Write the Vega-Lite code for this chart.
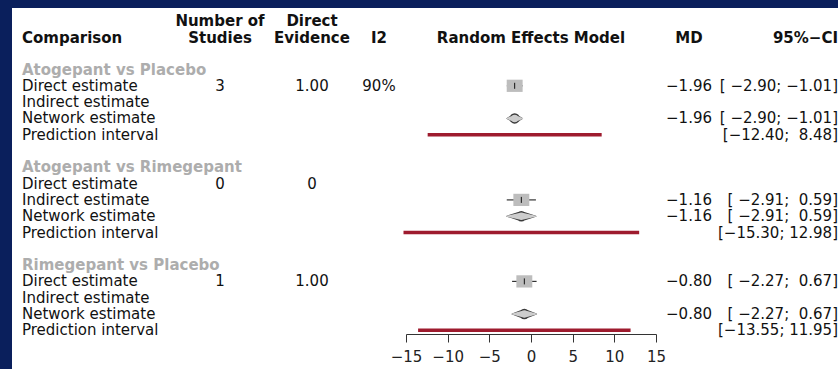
{
  "$schema": "https://vega.github.io/schema/vega-lite/v6.json",
  "background": "white",
  "padding": 0,
  "bounds": "flush",
  "spacing": 0,
  "datasets": {
    "rows": [
      {"cmp": "Atogepant vs Placebo", "row": 1, "label": "Direct estimate", "type": "direct", "studies": "3", "evidence": "1.00", "i2": "90%", "est": -1.96, "lower": -2.90, "upper": -1.01, "md": "\u22121.96", "ci": "[\u00a0\u22122.90;\u00a0\u22121.01]"},
      {"cmp": "Atogepant vs Placebo", "row": 2, "label": "Indirect estimate", "type": "indirect"},
      {"cmp": "Atogepant vs Placebo", "row": 3, "label": "Network estimate", "type": "network", "est": -1.96, "lower": -2.90, "upper": -1.01, "md": "\u22121.96", "ci": "[\u00a0\u22122.90;\u00a0\u22121.01]"},
      {"cmp": "Atogepant vs Placebo", "row": 4, "label": "Prediction interval", "type": "prediction", "lower": -12.40, "upper": 8.48, "ci": "[\u221212.40;\u00a0\u00a08.48]"},
      {"cmp": "Atogepant vs Rimegepant", "row": 7, "label": "Direct estimate", "type": "direct", "studies": "0", "evidence": "0"},
      {"cmp": "Atogepant vs Rimegepant", "row": 8, "label": "Indirect estimate", "type": "indirect", "est": -1.16, "lower": -2.91, "upper": 0.59, "md": "\u22121.16", "ci": "[\u00a0\u22122.91;\u00a0\u00a00.59]"},
      {"cmp": "Atogepant vs Rimegepant", "row": 9, "label": "Network estimate", "type": "network", "est": -1.16, "lower": -2.91, "upper": 0.59, "md": "\u22121.16", "ci": "[\u00a0\u22122.91;\u00a0\u00a00.59]"},
      {"cmp": "Atogepant vs Rimegepant", "row": 10, "label": "Prediction interval", "type": "prediction", "lower": -15.30, "upper": 12.98, "ci": "[\u221215.30;\u00a012.98]"},
      {"cmp": "Rimegepant vs Placebo", "row": 13, "label": "Direct estimate", "type": "direct", "studies": "1", "evidence": "1.00", "est": -0.80, "lower": -2.27, "upper": 0.67, "md": "\u22120.80", "ci": "[\u00a0\u22122.27;\u00a0\u00a00.67]"},
      {"cmp": "Rimegepant vs Placebo", "row": 14, "label": "Indirect estimate", "type": "indirect"},
      {"cmp": "Rimegepant vs Placebo", "row": 15, "label": "Network estimate", "type": "network", "est": -0.80, "lower": -2.27, "upper": 0.67, "md": "\u22120.80", "ci": "[\u00a0\u22122.27;\u00a0\u00a00.67]"},
      {"cmp": "Rimegepant vs Placebo", "row": 16, "label": "Prediction interval", "type": "prediction", "lower": -13.55, "upper": 11.95, "ci": "[\u221213.55;\u00a011.95]"}
    ],
    "groups": [
      {"cmp": "Atogepant vs Placebo", "row": 0},
      {"cmp": "Atogepant vs Rimegepant", "row": 6},
      {"cmp": "Rimegepant vs Placebo", "row": 12}
    ],
    "headers": [
      {"col": "comparison", "row": -1.95, "text": "Comparison"},
      {"col": "studies", "row": -3.0, "text": "Number of"},
      {"col": "studies", "row": -1.95, "text": "Studies"},
      {"col": "evidence", "row": -3.0, "text": "Direct"},
      {"col": "evidence", "row": -1.95, "text": "Evidence"},
      {"col": "i2", "row": -1.95, "text": "I2"},
      {"col": "forest", "row": -1.95, "text": "Random Effects Model"},
      {"col": "md", "row": -1.95, "text": "MD"},
      {"col": "ci", "row": -1.95, "text": "95%\u2212CI"}
    ]
  },
  "vconcat": [
    {
      "width": 838, "height": 8,
      "view": {"fill": "#0a1f5c", "stroke": null},
      "data": {"values": []},
      "mark": "text"
    },
    {
      "bounds": "flush",
      "spacing": 0,
      "hconcat": [
        {
          "width": 12, "height": 361,
          "view": {"fill": "#0a1f5c", "stroke": null},
          "data": {"values": []},
          "mark": "text"
        },
        {
          "width": 10, "height": 361,
          "data": {"values": []},
          "mark": "text"
        },
        {
          "width": 146, "height": 361,
          "layer": [
            {
              "data": {"name": "headers"},
              "transform": [{"filter": "datum.col === 'comparison'"}],
              "mark": {"type": "text", "fontWeight": "bold", "align": "left"},
              "encoding": {
                "x": {"value": 0},
                "y": {"field": "row", "type": "quantitative", "scale": {"domain": [-3.773, 18.374], "reverse": true, "nice": false, "zero": false}, "axis": null},
                "text": {"field": "text"}
              }
            },
            {
              "data": {"name": "groups"},
              "mark": {"type": "text", "fontWeight": "bold", "align": "left", "color": "#adadad"},
              "encoding": {
                "x": {"value": 0},
                "y": {"field": "row", "type": "quantitative", "scale": {"domain": [-3.773, 18.374], "reverse": true, "nice": false, "zero": false}, "axis": null},
                "text": {"field": "cmp"}
              }
            },
            {
              "data": {"name": "rows"},
              "mark": {"type": "text", "align": "left"},
              "encoding": {
                "x": {"value": 0},
                "y": {"field": "row", "type": "quantitative", "scale": {"domain": [-3.773, 18.374], "reverse": true, "nice": false, "zero": false}, "axis": null},
                "text": {"field": "label"}
              }
            }
          ]
        },
        {
          "width": 104, "height": 361,
          "layer": [
            {
              "data": {"name": "headers"},
              "transform": [{"filter": "datum.col === 'studies'"}],
              "mark": {"type": "text", "fontWeight": "bold"},
              "encoding": {
                "y": {"field": "row", "type": "quantitative", "scale": {"domain": [-3.773, 18.374], "reverse": true, "nice": false, "zero": false}, "axis": null},
                "text": {"field": "text"}
              }
            },
            {
              "data": {"name": "rows"},
              "transform": [{"filter": "isValid(datum.studies)"}],
              "mark": {"type": "text"},
              "encoding": {
                "y": {"field": "row", "type": "quantitative", "scale": {"domain": [-3.773, 18.374], "reverse": true, "nice": false, "zero": false}, "axis": null},
                "text": {"field": "studies"}
              }
            }
          ]
        },
        {
          "width": 80, "height": 361,
          "layer": [
            {
              "data": {"name": "headers"},
              "transform": [{"filter": "datum.col === 'evidence'"}],
              "mark": {"type": "text", "fontWeight": "bold"},
              "encoding": {
                "y": {"field": "row", "type": "quantitative", "scale": {"domain": [-3.773, 18.374], "reverse": true, "nice": false, "zero": false}, "axis": null},
                "text": {"field": "text"}
              }
            },
            {
              "data": {"name": "rows"},
              "transform": [{"filter": "isValid(datum.evidence)"}],
              "mark": {"type": "text"},
              "encoding": {
                "y": {"field": "row", "type": "quantitative", "scale": {"domain": [-3.773, 18.374], "reverse": true, "nice": false, "zero": false}, "axis": null},
                "text": {"field": "evidence"}
              }
            }
          ]
        },
        {
          "width": 54, "height": 361,
          "layer": [
            {
              "data": {"name": "headers"},
              "transform": [{"filter": "datum.col === 'i2'"}],
              "mark": {"type": "text", "fontWeight": "bold"},
              "encoding": {
                "y": {"field": "row", "type": "quantitative", "scale": {"domain": [-3.773, 18.374], "reverse": true, "nice": false, "zero": false}, "axis": null},
                "text": {"field": "text"}
              }
            },
            {
              "data": {"name": "rows"},
              "transform": [{"filter": "isValid(datum.i2)"}],
              "mark": {"type": "text"},
              "encoding": {
                "y": {"field": "row", "type": "quantitative", "scale": {"domain": [-3.773, 18.374], "reverse": true, "nice": false, "zero": false}, "axis": null},
                "text": {"field": "i2"}
              }
            }
          ]
        },
        {
          "width": 250, "height": 361,
          "resolve": {"scale": {"size": "independent"}},
          "layer": [
            {
              "data": {"name": "headers"},
              "transform": [{"filter": "datum.col === 'forest'"}],
              "mark": {"type": "text", "fontWeight": "bold"},
              "encoding": {
                "y": {"field": "row", "type": "quantitative", "scale": {"domain": [-3.773, 18.374], "reverse": true, "nice": false, "zero": false}, "axis": null},
                "text": {"field": "text"}
              }
            },
            {
              "data": {"name": "rows"},
              "transform": [{"filter": "datum.type === 'prediction'"}],
              "mark": {"type": "rule", "color": "#9e1b2e", "strokeWidth": 3.5},
              "encoding": {
                "x": {
                  "field": "lower", "type": "quantitative",
                  "scale": {"domain": [-15, 15], "nice": false, "zero": false},
                  "axis": {
                    "values": [-15, -10, -5, 0, 5, 10, 15], "grid": false, "title": null, "offset": -35,
                    "tickSize": 8, "tickWidth": 1, "tickColor": "#333", "domainColor": "#333", "domainWidth": 1,
                    "labelFont": "DejaVu Sans", "labelFontSize": 15, "labelColor": "#222", "labelPadding": 7,
                    "labelFlush": false, "labelOverlap": false
                  }
                },
                "x2": {"field": "upper"},
                "y": {"field": "row", "type": "quantitative", "scale": {"domain": [-3.773, 18.374], "reverse": true, "nice": false, "zero": false}, "axis": null}
              }
            },
            {
              "mark": {"type": "rule", "color": "#8a8a8a", "strokeWidth": 1.8},
              "encoding": {
                "x": {"datum": 0, "type": "quantitative"},
                "y": {"datum": -0.45, "type": "quantitative"},
                "y2": {"datum": 16.25}
              }
            },
            {
              "data": {"name": "rows"},
              "transform": [{"filter": "isValid(datum.est) && (datum.type === 'direct' || datum.type === 'indirect')"}],
              "mark": {"type": "rule", "color": "#333333", "strokeWidth": 1.2},
              "encoding": {
                "x": {"field": "lower", "type": "quantitative"},
                "x2": {"field": "upper"},
                "y": {"field": "row", "type": "quantitative"}
              }
            },
            {
              "data": {"name": "rows"},
              "transform": [{"filter": "isValid(datum.est) && (datum.type === 'direct' || datum.type === 'indirect')"}],
              "mark": {"type": "point", "shape": "M-1.3,-1H1.3V1H-1.3Z", "filled": true, "color": "#bdbdbd", "opacity": 1, "size": 150, "strokeWidth": 0},
              "encoding": {
                "x": {"field": "est", "type": "quantitative"},
                "y": {"field": "row", "type": "quantitative"}
              }
            },
            {
              "data": {"name": "rows"},
              "transform": [{"filter": "isValid(datum.est) && (datum.type === 'direct' || datum.type === 'indirect')"}],
              "mark": {"type": "point", "shape": "M0,-1V1", "filled": false, "color": "#111111", "opacity": 1, "size": 36, "strokeWidth": 1},
              "encoding": {
                "x": {"field": "est", "type": "quantitative"},
                "y": {"field": "row", "type": "quantitative"}
              }
            },
            {
              "data": {"name": "rows"},
              "transform": [
                {"filter": "datum.type === 'network'"},
                {"fold": ["lower", "est", "upper"], "as": ["part", "xv"]}
              ],
              "mark": {"type": "trail", "fill": "#3a3a3a", "opacity": 1},
              "encoding": {
                "x": {"field": "xv", "type": "quantitative"},
                "y": {"field": "row", "type": "quantitative"},
                "size": {"field": "part", "type": "ordinal", "scale": {"type": "ordinal", "domain": ["lower", "est", "upper"], "range": [0, 10.5, 0]}, "legend": null},
                "detail": {"field": "cmp"}
              }
            },
            {
              "data": {"name": "rows"},
              "transform": [
                {"filter": "datum.type === 'network'"},
                {"fold": ["lower", "est", "upper"], "as": ["part", "xv"]}
              ],
              "mark": {"type": "trail", "fill": "#cdcdcd", "opacity": 1},
              "encoding": {
                "x": {"field": "xv", "type": "quantitative"},
                "y": {"field": "row", "type": "quantitative"},
                "size": {"field": "part", "type": "ordinal", "scale": {"type": "ordinal", "domain": ["lower", "est", "upper"], "range": [0, 7.5, 0]}, "legend": null},
                "detail": {"field": "cmp"}
              }
            }
          ]
        },
        {
          "width": 66, "height": 361,
          "layer": [
            {
              "data": {"name": "headers"},
              "transform": [{"filter": "datum.col === 'md'"}],
              "mark": {"type": "text", "fontWeight": "bold"},
              "encoding": {
                "y": {"field": "row", "type": "quantitative", "scale": {"domain": [-3.773, 18.374], "reverse": true, "nice": false, "zero": false}, "axis": null},
                "text": {"field": "text"}
              }
            },
            {
              "data": {"name": "rows"},
              "transform": [{"filter": "isValid(datum.md)"}],
              "mark": {"type": "text"},
              "encoding": {
                "y": {"field": "row", "type": "quantitative", "scale": {"domain": [-3.773, 18.374], "reverse": true, "nice": false, "zero": false}, "axis": null},
                "text": {"field": "md"}
              }
            }
          ]
        },
        {
          "width": 116, "height": 361,
          "layer": [
            {
              "data": {"name": "headers"},
              "transform": [{"filter": "datum.col === 'ci'"}],
              "mark": {"type": "text", "fontWeight": "bold", "align": "right"},
              "encoding": {
                "x": {"value": "width"},
                "y": {"field": "row", "type": "quantitative", "scale": {"domain": [-3.773, 18.374], "reverse": true, "nice": false, "zero": false}, "axis": null},
                "text": {"field": "text"}
              }
            },
            {
              "data": {"name": "rows"},
              "transform": [{"filter": "isValid(datum.ci)"}],
              "mark": {"type": "text", "align": "right"},
              "encoding": {
                "x": {"value": "width"},
                "y": {"field": "row", "type": "quantitative", "scale": {"domain": [-3.773, 18.374], "reverse": true, "nice": false, "zero": false}, "axis": null},
                "text": {"field": "ci"}
              }
            }
          ]
        }
      ]
    }
  ],
  "config": {
    "view": {"stroke": null, "fill": null},
    "concat": {"spacing": 0},
    "text": {"font": "DejaVu Sans", "fontSize": 15, "color": "#111111"}
  }
}
